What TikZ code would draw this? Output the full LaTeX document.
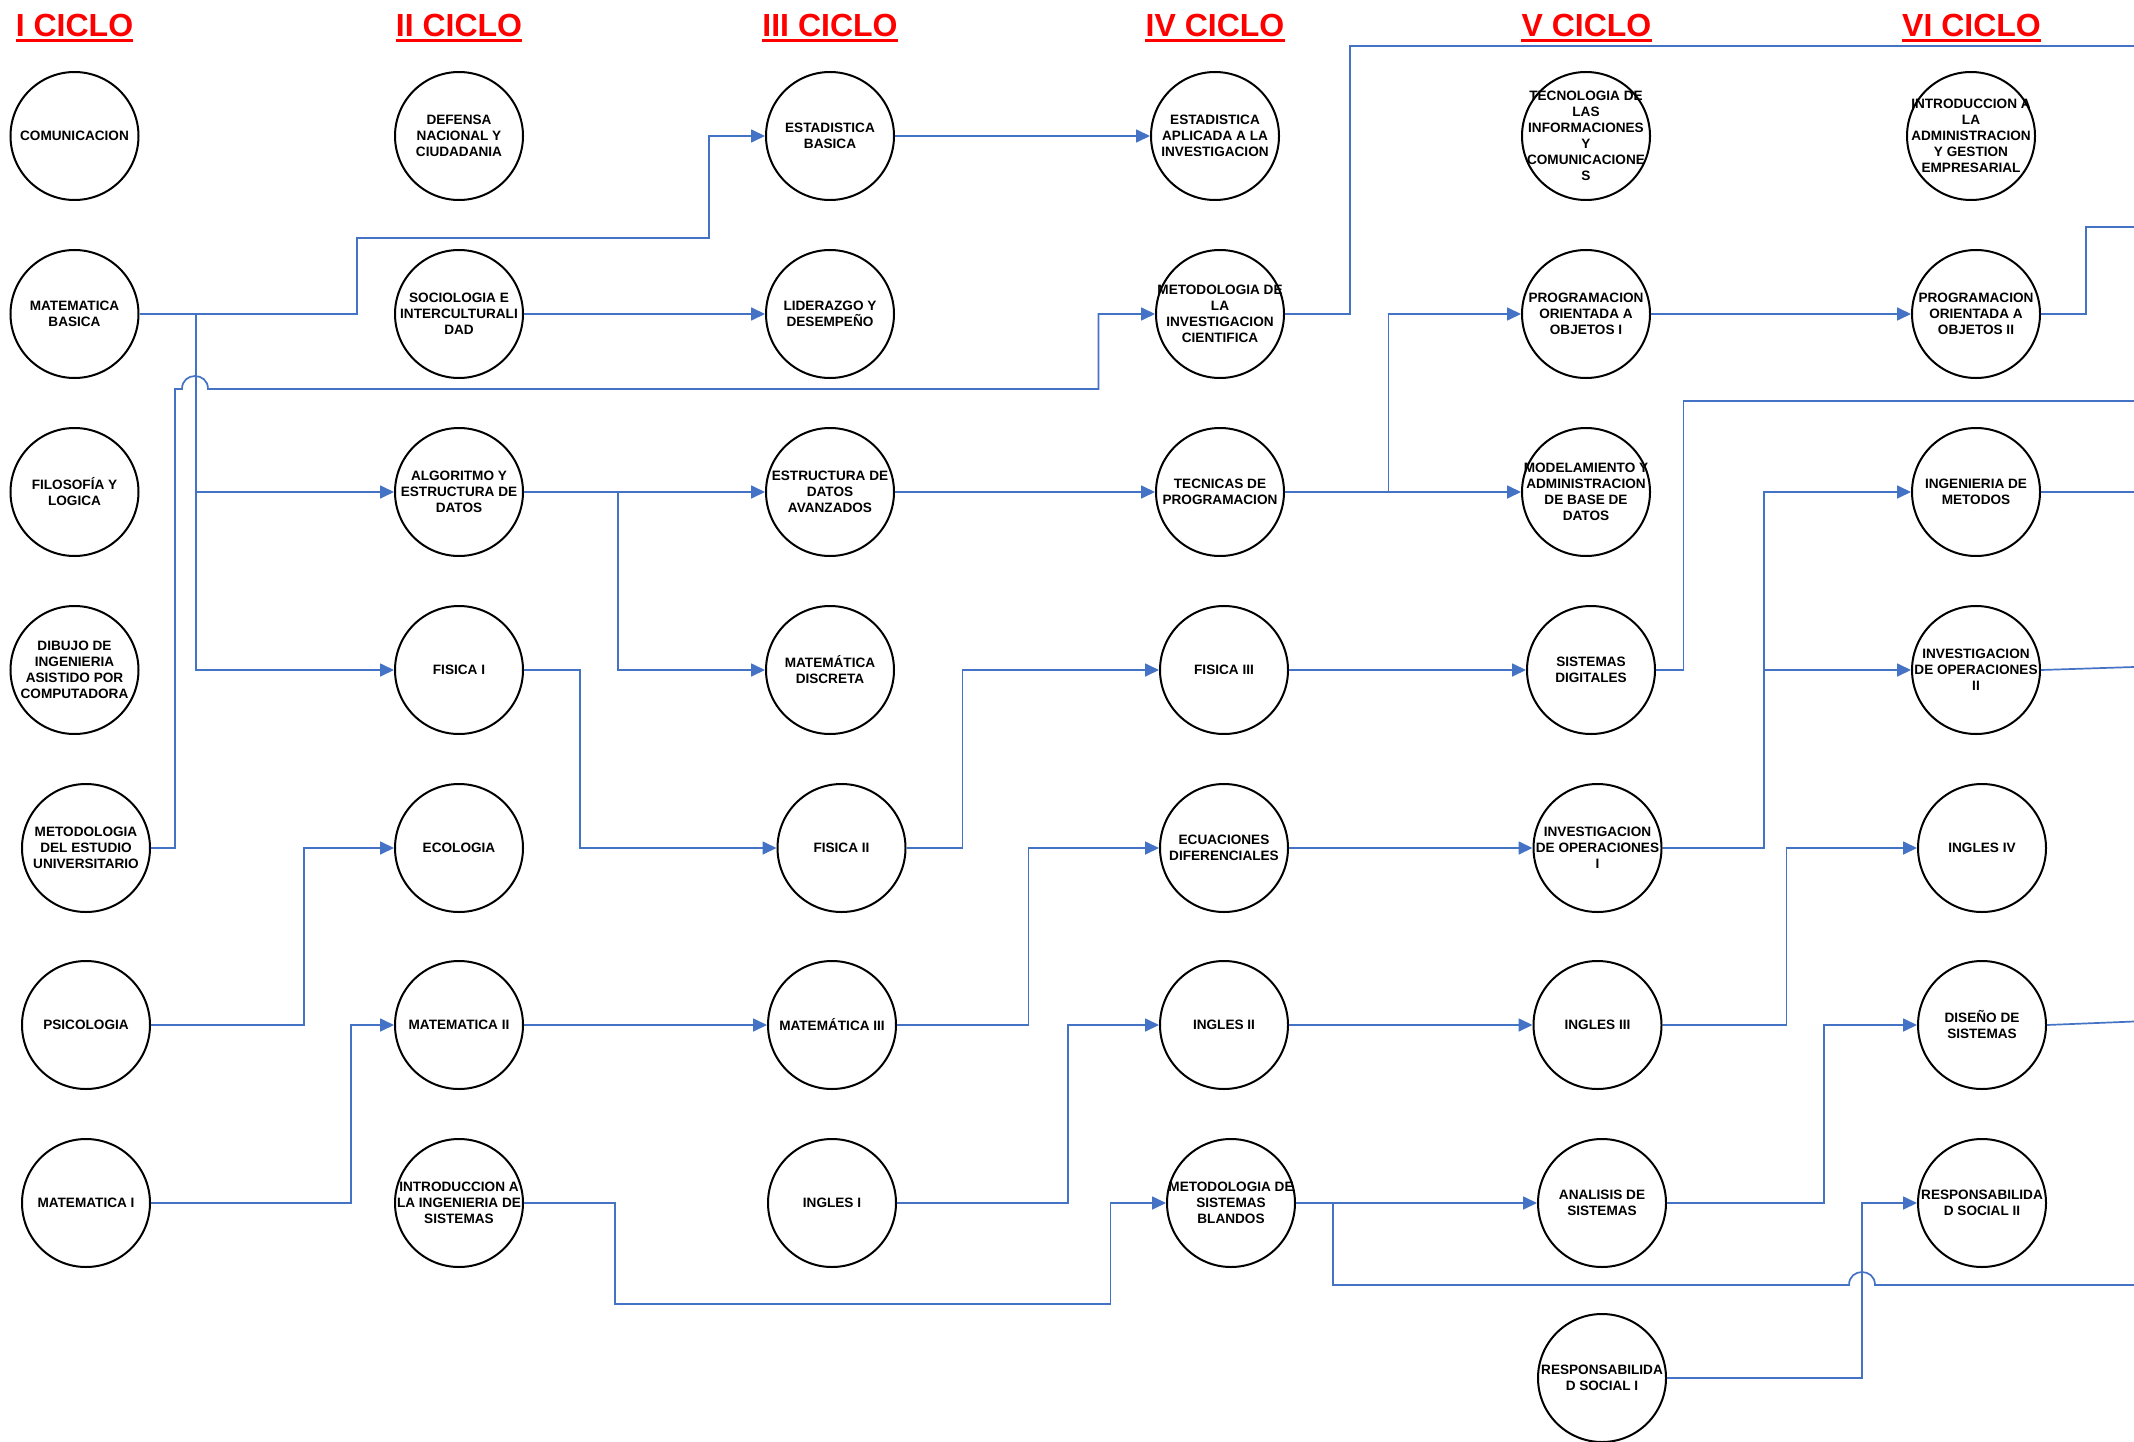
\documentclass[tikz,border=0pt]{standalone}
\usepackage{fontspec}
\setmainfont{Liberation Sans}
\usetikzlibrary{arrows.meta}
\definecolor{lblue}{HTML}{4472C4}
\newcommand{\coursenode}[4]{%
  \node[course] (#1) at (#2,#3) {};
  \node[ctext] (#1-t) at (#1) {#4};
}
\begin{document}
\begin{tikzpicture}[x=1pt,y=-1pt,
  course/.style={circle,draw=black,line width=2pt,minimum size=128pt,inner sep=0pt},
  ctext/.style={font=\fontsize{13.6}{16}\selectfont\bfseries,align=center,inner sep=0pt},
  head/.style={font=\fontsize{32}{36}\selectfont\bfseries,text=red,inner sep=0pt,anchor=base},
  conn/.style={draw=lblue,line width=1.7pt},
  arr/.style={conn,-{Triangle[length=14pt,width=13pt]}}]
\useasboundingbox (0,0) rectangle (2134,1442);
\fill[white] (0,0) rectangle (2134,1442);

% headings
\node[head] (h1) at (74.5,37) {I CICLO};
\node[head] (h2) at (459,37) {II CICLO};
\node[head] (h3) at (830,37) {III CICLO};
\node[head] (h4) at (1215,37) {IV CICLO};
\node[head] (h5) at (1586.5,37) {V CICLO};
\node[head] (h6) at (1971.5,37) {VI CICLO};
\foreach \h in {h1,h2,h3,h4,h5,h6}
  \draw[red,line width=2.8pt] ([yshift=-3.6pt]\h.base west) -- ([yshift=-3.6pt]\h.base east);

% column I
\coursenode{comu}{74.5}{136}{COMUNICACION}
\coursenode{matb}{74.5}{314}{MATEMATICA\\BASICA}
\coursenode{filo}{74.5}{492}{FILOSOFÍA Y\\LOGICA}
\coursenode{dibu}{74.5}{670}{DIBUJO DE\\INGENIERIA\\ASISTIDO POR\\COMPUTADORA}
\coursenode{mdeu}{86}{848}{METODOLOGIA\\DEL ESTUDIO\\UNIVERSITARIO}
\coursenode{psic}{86}{1025}{PSICOLOGIA}
\coursenode{mat1}{86}{1203}{MATEMATICA I}
% column II
\coursenode{defe}{459}{136}{DEFENSA\\NACIONAL Y\\CIUDADANIA}
\coursenode{soci}{459}{314}{SOCIOLOGIA E\\INTERCULTURALI\\DAD}
\coursenode{algo}{459}{492}{ALGORITMO Y\\ESTRUCTURA DE\\DATOS}
\coursenode{fis1}{459}{670}{FISICA I}
\coursenode{ecol}{459}{848}{ECOLOGIA}
\coursenode{mat2}{459}{1025}{MATEMATICA II}
\coursenode{iing}{459}{1203}{INTRODUCCION A\\LA INGENIERIA DE\\SISTEMAS}
% column III
\coursenode{estb}{830}{136}{ESTADISTICA\\BASICA}
\coursenode{lide}{830}{314}{LIDERAZGO Y\\DESEMPEÑO}
\coursenode{esda}{830}{492}{ESTRUCTURA DE\\DATOS\\AVANZADOS}
\coursenode{mdis}{830}{670}{MATEMÁTICA\\DISCRETA}
\coursenode{fis2}{841.5}{848}{FISICA II}
\coursenode{mat3}{832}{1025}{MATEMÁTICA III}
\coursenode{ing1}{832}{1203}{INGLES I}
% column IV
\coursenode{esap}{1215}{136}{ESTADISTICA\\APLICADA A LA\\INVESTIGACION}
\coursenode{minv}{1220}{314}{METODOLOGIA DE\\LA\\INVESTIGACION\\CIENTIFICA}
\coursenode{tecp}{1220}{492}{TECNICAS DE\\PROGRAMACION}
\coursenode{fis3}{1224}{670}{FISICA III}
\coursenode{ecua}{1224}{848}{ECUACIONES\\DIFERENCIALES}
\coursenode{ing2}{1224}{1025}{INGLES II}
\coursenode{msbl}{1231}{1203}{METODOLOGIA DE\\SISTEMAS\\BLANDOS}
% column V
\coursenode{tics}{1586}{136}{TECNOLOGIA DE\\LAS\\INFORMACIONES\\Y\\COMUNICACIONE\\S}
\coursenode{poo1}{1586}{314}{PROGRAMACION\\ORIENTADA A\\OBJETOS I}
\coursenode{mbd}{1586}{492}{MODELAMIENTO Y\\ADMINISTRACION\\DE BASE DE\\DATOS}
\coursenode{sdig}{1591}{670}{SISTEMAS\\DIGITALES}
\coursenode{iop1}{1597.5}{848}{INVESTIGACION\\DE OPERACIONES\\I}
\coursenode{ing3}{1597.5}{1025}{INGLES III}
\coursenode{anas}{1602}{1203}{ANALISIS DE\\SISTEMAS}
\coursenode{rso1}{1602}{1378}{RESPONSABILIDA\\D SOCIAL I}
% column VI
\coursenode{iage}{1971}{136}{INTRODUCCION A\\LA\\ADMINISTRACION\\Y GESTION\\EMPRESARIAL}
\coursenode{poo2}{1976}{314}{PROGRAMACION\\ORIENTADA A\\OBJETOS II}
\coursenode{imet}{1976}{492}{INGENIERIA DE\\METODOS}
\coursenode{iop2}{1976}{670}{INVESTIGACION\\DE OPERACIONES\\II}
\coursenode{ing4}{1982}{848}{INGLES IV}
\coursenode{dise}{1982}{1025}{DISEÑO DE\\SISTEMAS}
\coursenode{rso2}{1982}{1203}{RESPONSABILIDA\\D SOCIAL II}

% free ends at the right edge
\coordinate (e1) at (2134,46);
\coordinate (e2) at (2134,227);
\coordinate (e3) at (2134,401);
\coordinate (e4) at (2134,492);
\coordinate (e5) at (2134,667);
\coordinate (e6) at (2134,1021.5);
\coordinate (e7) at (2134,1285);

% connectors
\draw[arr] (matb.east) -- (357,314) -- (357,238) -- (709,238) |- (estb.west);
\draw[arr] (matb.east) -- (196,314) |- (algo.west);
\draw[arr] (matb.east) -- (196,314) |- (fis1.west);
\draw[arr] (mdeu.east) -- (175,848) -- (175,389) -- (182,389)
  .. controls (182,371.7) and (208,371.7) .. (208,389) -- (1098.5,389) |- (minv.west);
\draw[arr] (soci.east) -- (lide.west);
\draw[arr] (algo.east) -- (esda.west);
\draw[arr] (algo.east) -- (618,492) |- (mdis.west);
\draw[arr] (fis1.east) -- (580,670) |- (fis2.west);
\draw[arr] (psic.east) -- (304,1025) |- (ecol.west);
\draw[arr] (mat1.east) -- (351,1203) |- (mat2.west);
\draw[arr] (mat2.east) -- (mat3.west);
\draw[arr] (iing.east) -- (615,1203) -- (615,1304) -- (1110.5,1304) |- (msbl.west);
\draw[arr] (estb.east) -- (esap.west);
\draw[arr] (esda.east) -- (tecp.west);
\draw[arr] (fis2.east) -- (962.5,848) |- (fis3.west);
\draw[arr] (mat3.east) -- (1028.5,1025) |- (ecua.west);
\draw[arr] (ing1.east) -- (1068,1203) |- (ing2.west);
\draw[conn] (minv.east) -- (1350,314) |- (e1);
\draw[arr] (tecp.east) -- (mbd.west);
\draw[arr] (tecp.east) -- (1388.5,492) |- (poo1.west);
\draw[arr] (fis3.east) -- (sdig.west);
\draw[arr] (ecua.east) -- (iop1.west);
\draw[arr] (ing2.east) -- (ing3.west);
\draw[arr] (msbl.east) -- (anas.west);
\draw[conn] (msbl.east) -- (1333,1203) -- (1333,1285) -- (1849,1285)
  .. controls (1849,1267.7) and (1875,1267.7) .. (1875,1285) -- (e7);
\draw[arr] (poo1.east) -- (poo2.west);
\draw[conn] (sdig.east) -- (1683.5,670) |- (e3);
\draw[arr] (iop1.east) -- (1764,848) |- (imet.west);
\draw[arr] (iop1.east) -- (1764,848) |- (iop2.west);
\draw[arr] (ing3.east) -- (1786.5,1025) |- (ing4.west);
\draw[arr] (anas.east) -- (1824,1203) |- (dise.west);
\draw[arr] (rso1.east) -- (1862,1378) |- (rso2.west);
\draw[conn] (poo2.east) -- (2085.7,314) |- (e2);
\draw[conn] (imet.east) -- (e4);
\draw[conn] (iop2.east) -- (e5);
\draw[conn] (dise.east) -- (e6);
\end{tikzpicture}
\end{document}
